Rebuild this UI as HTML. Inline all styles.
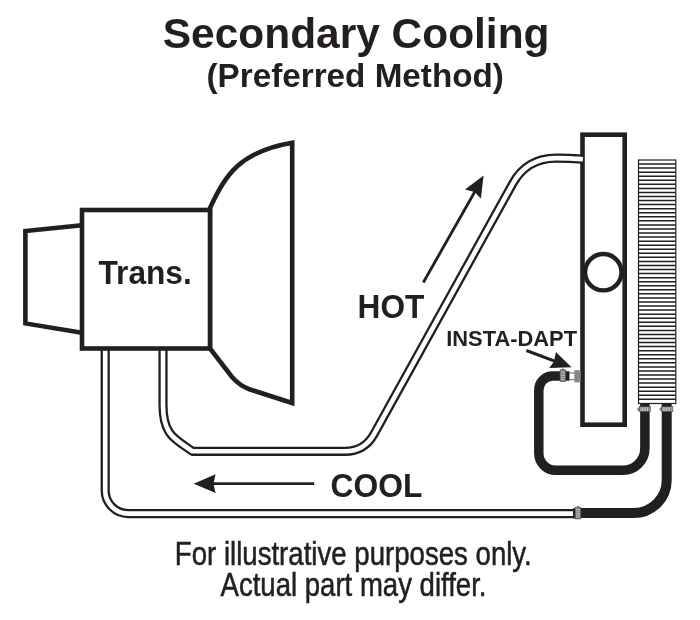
<!DOCTYPE html>
<html lang="en">
<head>
<meta charset="utf-8">
<title>Secondary Cooling (Preferred Method)</title>
<style>
html,body{margin:0;padding:0;background:#fff;}
body{width:700px;height:620px;overflow:hidden;}
svg{display:block;will-change:transform;}
text{font-family:"Liberation Sans",Arial,Helvetica,sans-serif;fill:#231f20;}
.b{font-weight:bold;}
</style>
</head>
<body>
<svg width="700" height="620" viewBox="0 0 700 620">
<rect width="700" height="620" fill="#fff"/>

<!-- titles -->
<text class="b" x="162.8" y="48.2" font-size="42.45">Secondary Cooling</text>
<text class="b" x="206.5" y="87" font-size="32.5" textLength="297.4" lengthAdjust="spacingAndGlyphs">(Preferred Method)</text>

<!-- white pipes (double line) -->
<g fill="none" stroke-linejoin="round">
  <!-- cool return pipe -->
  <path id="coolp" d="M105.2,349 L105.2,490.6 A23,23 0 0 0 128.2,513.6 L575,513.6" stroke="#231f20" stroke-width="9.2"/>
  <path d="M105.2,349 L105.2,490.6 A23,23 0 0 0 128.2,513.6 L573.5,513.6" stroke="#fff" stroke-width="4.6"/>
  <!-- hot pipe -->
  <path d="M163,349 L163,405 C163,435.6 175.4,439.1 192.5,451.3 L345,451.3 Q364.5,451.3 374,434.2 L512.8,183.5 Q526.8,158.1 556,158.1 Q569,158.1 583,159.2" stroke="#231f20" stroke-width="9.2"/>
  <path d="M163,349 L163,405 C163,435.6 175.4,439.1 192.5,451.3 L345,451.3 Q364.5,451.3 374,434.2 L512.8,183.5 Q526.8,158.1 556,158.1 Q569,158.1 583,159.2" stroke="#fff" stroke-width="4.6"/>
</g>

<!-- transmission -->
<g fill="#fff" stroke="#231f20" stroke-width="4.6" stroke-linejoin="miter">
  <path d="M82,225.2 L25.4,231 L25.4,323.4 L82,332.8"/>
  <path d="M210,208 C225.6,174.7 239.6,151.8 292.2,142.8 L292.2,403 L250,389.5 Q240,386 232,377 L210,348.5 Z"/>
  <rect x="82" y="210" width="128" height="138.5"/>
</g>
<text class="b" x="98.5" y="284.3" font-size="32.4" textLength="93.2" lengthAdjust="spacingAndGlyphs">Trans.</text>

<!-- tank / radiator side -->
<rect x="582.5" y="134.7" width="42.2" height="290" fill="#fff" stroke="#231f20" stroke-width="4.6"/>
<path d="M578,158.8 L582.9,159.2" stroke="#fff" stroke-width="4.6" fill="none"/>
<circle cx="603.3" cy="272.2" r="18.2" fill="#fff" stroke="#231f20" stroke-width="4.4"/>

<!-- finned cooler -->
<g id="cooler">
  <rect x="638.5" y="160" width="37.3" height="243.5" fill="#fff" stroke="#231f20" stroke-width="1.2"/>
  <path id="fins" stroke="#231f20" stroke-width="1.5" d="M638.5,164.06H675.8M638.5,168.11H675.8M638.5,172.17H675.8M638.5,176.23H675.8M638.5,180.28H675.8M638.5,184.34H675.8M638.5,188.40H675.8M638.5,192.45H675.8M638.5,196.51H675.8M638.5,200.57H675.8M638.5,204.62H675.8M638.5,208.68H675.8M638.5,212.74H675.8M638.5,216.79H675.8M638.5,220.85H675.8M638.5,224.91H675.8M638.5,228.96H675.8M638.5,233.02H675.8M638.5,237.08H675.8M638.5,241.13H675.8M638.5,245.19H675.8M638.5,249.25H675.8M638.5,253.30H675.8M638.5,257.36H675.8M638.5,261.42H675.8M638.5,265.47H675.8M638.5,269.53H675.8M638.5,273.59H675.8M638.5,277.64H675.8M638.5,281.70H675.8M638.5,285.76H675.8M638.5,289.81H675.8M638.5,293.87H675.8M638.5,297.93H675.8M638.5,301.98H675.8M638.5,306.04H675.8M638.5,310.10H675.8M638.5,314.15H675.8M638.5,318.21H675.8M638.5,322.27H675.8M638.5,326.32H675.8M638.5,330.38H675.8M638.5,334.44H675.8M638.5,338.49H675.8M638.5,342.55H675.8M638.5,346.61H675.8M638.5,350.66H675.8M638.5,354.72H675.8M638.5,358.78H675.8M638.5,362.83H675.8M638.5,366.89H675.8M638.5,370.95H675.8M638.5,375.00H675.8M638.5,379.06H675.8M638.5,383.12H675.8M638.5,387.17H675.8M638.5,391.23H675.8M638.5,395.29H675.8M638.5,399.34H675.8"/>
</g>

<!-- black hoses -->
<g fill="none" stroke="#231f20" stroke-width="9.5">
  <path d="M569.6,376 L552.8,376 A14,14 0 0 0 538.8,390 L538.8,453.3 A17,17 0 0 0 555.8,470.3 L622.9,470.3 A22,22 0 0 0 644.9,448.3 L644.9,403.5"/>
  <path d="M666.7,403.5 L666.7,480 A33,33 0 0 1 633.8,513.1 L578,513.1" stroke-width="10"/>
</g>

<!-- clamps -->
<defs>
  <g id="vclamp">
    <path d="M0,2 L2.2,0.3 L2.6,0.3 L2.6,5.1 L2.2,5.1 L0,3.5 Z" fill="#8c8c8c"/>
    <rect x="2.5" y="0" width="11.1" height="5.4" fill="#6f6f6f"/>
    <rect x="2.5" y="0" width="11.1" height="5.4" fill="none" stroke="#3a3738" stroke-width="0.5"/>
    <path d="M3.9,0.8V4.7M5.5,0.8V4.7M7.1,0.8V4.7M8.7,0.8V4.7M10.3,0.8V4.7" stroke="#e4e4e4" stroke-width="0.8" fill="none"/>
    <rect x="11.6" y="0.4" width="1.7" height="4.6" fill="#9a9a9a"/>
  </g>
  <g id="hclamp">
    <rect x="2" y="-1.3" width="1.9" height="1.6" fill="#6e6e6e"/>
    <rect x="0" y="0" width="5.8" height="11.8" fill="#7c7c7c"/>
    <rect x="0" y="0" width="5.8" height="11.8" fill="none" stroke="#4a4748" stroke-width="0.5"/>
    <path d="M0.9,2.1H4.9M0.9,4H4.9M0.9,5.9H4.9M0.9,7.8H4.9M0.9,9.7H4.9" stroke="#c9c9c9" stroke-width="0.8" fill="none"/>
  </g>
</defs>
<g id="clamps">
  <!-- cooler clamps -->
  <use href="#vclamp" x="637.1" y="406.4"/>
  <use href="#vclamp" x="659.3" y="406.4"/>
  <!-- pipe joint clamp -->
  <rect x="573" y="508.2" width="2.6" height="10.1" fill="#231f20"/>
  <use href="#hclamp" x="575.1" y="507.2"/>
  <!-- insta-dapt fitting -->
  <use href="#hclamp" x="560" y="369.8"/>
  <rect x="569.6" y="372.3" width="4.8" height="8" fill="#8a8a8a"/>
  <rect x="569.8" y="373.7" width="4.6" height="5.2" fill="#fff"/>
  <rect x="574.3" y="370.2" width="6.2" height="12.1" fill="#8e9092"/>
  <path d="M575.8,370.2V382.3M577.4,370.2V382.3M579,370.2V382.3M574.3,373.2H580.5M574.3,376.2H580.5M574.3,379.2H580.5" stroke="#7d7f81" stroke-width="0.5" fill="none"/>
</g>

<!-- arrows -->
<g fill="#231f20" stroke="none">
  <!-- COOL arrow -->
  <rect x="212" y="482.3" width="102.2" height="2.7"/>
  <path d="M193.7,483.7 L215.6,474.3 L213.4,483.7 L215.6,493.1 Z"/>
  <!-- HOT arrow -->
  <path d="M423.3,282.5 L475.5,190.5" stroke="#231f20" stroke-width="2.8" fill="none"/>
  <path d="M483.6,175.6 L465,189.6 L474.6,192 L480.9,198.4 Z"/>
  <!-- INSTA-DAPT arrow -->
  <path d="M526.4,350.5 L556,361.6" stroke="#231f20" stroke-width="3" fill="none"/>
  <path d="M571.5,367.2 L555.9,351.9 L554,361.4 L549.3,367.9 Z"/>
</g>

<!-- labels -->
<text class="b" x="357.6" y="318.3" font-size="33.3" textLength="66.8" lengthAdjust="spacingAndGlyphs">HOT</text>
<text class="b" x="330.6" y="496.9" font-size="33" textLength="91.8" lengthAdjust="spacingAndGlyphs">COOL</text>
<text class="b" x="446.2" y="346.2" font-size="22.8" textLength="130.9" lengthAdjust="spacingAndGlyphs">INSTA-DAPT</text>

<!-- footer -->
<text x="174.8" y="565" font-size="33.2" stroke="#231f20" stroke-width="0.55" textLength="357" lengthAdjust="spacingAndGlyphs">For illustrative purposes only.</text>
<text x="220.5" y="596.2" font-size="33.2" stroke="#231f20" stroke-width="0.55" textLength="266" lengthAdjust="spacingAndGlyphs">Actual part may differ.</text>
</svg>
</body>
</html>
